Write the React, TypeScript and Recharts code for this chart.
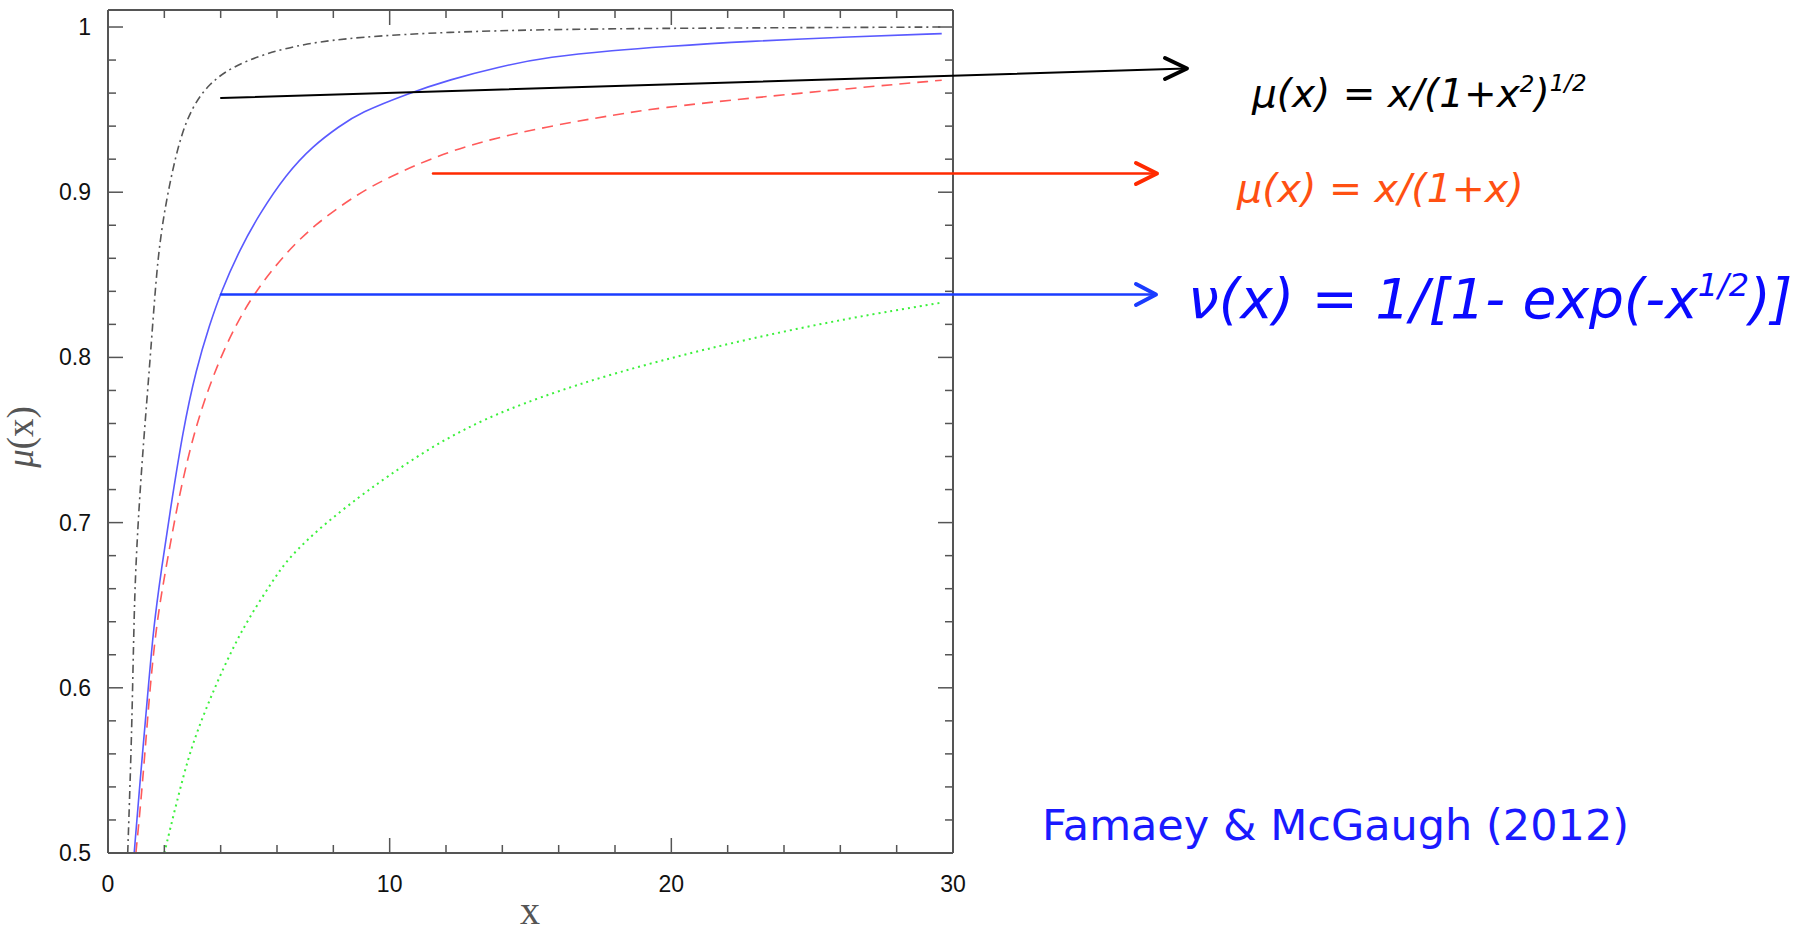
import React from 'react';
import { LineChart, Line, XAxis, YAxis } from 'recharts';

const STD_X = [0.7, 0.78, 0.85, 0.91, 0.97, 1.15, 1.38, 1.58, 1.77, 2.06, 2.53, 3.0, 3.6, 4.42, 5.6, 7.0, 8.9, 12.1, 15.6, 19.5, 24.5, 29.6];
const STD_Y = [0.5, 0.54, 0.58, 0.63, 0.67, 0.724, 0.774, 0.818, 0.862, 0.895, 0.932, 0.952, 0.966, 0.976, 0.984, 0.99, 0.994, 0.997, 0.9985, 0.9992, 0.9996, 1.0];

const NU_X = [0.93, 1.12, 1.43, 1.62, 1.89, 2.18, 2.66, 3.13, 3.61, 4.02, 4.67, 5.38, 6.33, 7.27, 8.22, 8.93, 10.69, 12.11, 13.89, 15.66, 18.03, 19.57, 22.79, 26.35, 29.6];
const NU_Y = [0.5, 0.54, 0.6, 0.637, 0.671, 0.704, 0.756, 0.793, 0.82, 0.84, 0.865, 0.887, 0.911, 0.928, 0.94, 0.948, 0.96, 0.968, 0.976, 0.982, 0.986, 0.988, 0.9915, 0.994, 0.996];

const SIMPLE_X = [0.99, 1.13, 1.31, 1.49, 1.73, 2.05, 2.56, 3.15, 3.86, 4.57, 5.28, 6.2, 7.29, 8.95, 9.98, 11.52, 13.29, 15.66, 18.03, 19.57, 22.79, 26.35, 29.6];
const SIMPLE_Y = [0.5, 0.524, 0.56, 0.6, 0.64, 0.672, 0.72, 0.761, 0.795, 0.821, 0.841, 0.861, 0.88, 0.9, 0.909, 0.921, 0.931, 0.94, 0.947, 0.951, 0.957, 0.9628, 0.9678];

const GREEN_X = [2.0, 2.74, 3.21, 3.81, 4.4, 4.99, 5.82, 6.42, 7.6, 8.95, 9.93, 11.32, 12.7, 14.09, 16.6, 19.57, 22.79, 26.35, 29.55];
const GREEN_Y = [0.5, 0.552, 0.576, 0.601, 0.623, 0.642, 0.664, 0.679, 0.698, 0.716, 0.728, 0.744, 0.757, 0.768, 0.7835, 0.798, 0.8115, 0.824, 0.833];

const X_TICKS = [0, 2, 4, 6, 8, 10, 12, 14, 16, 18, 20, 22, 24, 26, 28, 30];
const X_LABELS = [0, 10, 20, 30];
const Y_TICKS = [0.5, 0.52, 0.54, 0.56, 0.58, 0.6, 0.62, 0.64, 0.66, 0.68, 0.7, 0.72, 0.74, 0.76, 0.78, 0.8, 0.82, 0.84, 0.86, 0.88, 0.9, 0.92, 0.94, 0.96, 0.98, 1];
const Y_LABELS = ['0.5', '0.6', '0.7', '0.8', '0.9', '1'];

const toPoints = (xs: number[], ys: number[]) => xs.map((x, i) => ({ x, y: ys[i] }));

const FRAME = '#555';
const MAJOR = 15;
const MINOR = 8;

const isMajorX = (v: number) => X_LABELS.includes(v);
const yLabel = (v: number) => Y_LABELS.find((l) => Math.abs(parseFloat(l) - v) < 1e-6);

const BottomTick = ({ x, y, payload }: any) => {
  const major = isMajorX(payload.value);
  return (
    <g>
      <line x1={x} y1={y} x2={x} y2={y - (major ? MAJOR : MINOR)} stroke={FRAME} strokeWidth={1.5} />
      {major && (
        <text x={x} y={y + 39} textAnchor="middle" fontSize={23} fill="#111">
          {payload.value}
        </text>
      )}
    </g>
  );
};

const TopTick = ({ x, y, payload }: any) => (
  <line x1={x} y1={y} x2={x} y2={y + (isMajorX(payload.value) ? MAJOR : MINOR)} stroke={FRAME} strokeWidth={1.5} />
);

const LeftTick = ({ x, y, payload }: any) => {
  const label = yLabel(payload.value);
  return (
    <g>
      <line x1={x} y1={y} x2={x + (label ? MAJOR : MINOR)} y2={y} stroke={FRAME} strokeWidth={1.5} />
      {label && (
        <text x={x - 17} y={y + 8} textAnchor="end" fontSize={23} fill="#111">
          {label}
        </text>
      )}
    </g>
  );
};

const RightTick = ({ x, y, payload }: any) => (
  <line x1={x} y1={y} x2={x - (yLabel(payload.value) ? MAJOR : MINOR)} y2={y} stroke={FRAME} strokeWidth={1.5} />
);

export default function App() {
  const axisLine = { stroke: FRAME, strokeWidth: 2 };
  return (
    <div style={{ position: 'absolute', left: 0, top: 0, width: 1805, height: 934, background: '#fff', fontFamily: '"Liberation Sans", Arial, sans-serif' }}>
      <div style={{ position: 'absolute', left: 0, top: 0 }}>
        <LineChart width={1805} height={934} margin={{ top: 0, right: 842, bottom: 61, left: 88 }}>
          <XAxis xAxisId="b" type="number" dataKey="x" domain={[0, 30]} ticks={X_TICKS} interval={0}
            orientation="bottom" height={20} tickSize={0} tickMargin={0} tickLine={false} axisLine={axisLine}
            tick={<BottomTick />} allowDataOverflow />
          <XAxis xAxisId="t" type="number" dataKey="x" domain={[0, 30]} ticks={X_TICKS} interval={0}
            orientation="top" height={10} tickSize={0} tickMargin={0} tickLine={false} axisLine={axisLine}
            tick={<TopTick />} allowDataOverflow />
          <YAxis yAxisId="l" type="number" domain={[0.5, 1.0103]} ticks={Y_TICKS} interval={0}
            orientation="left" width={20} tickSize={0} tickMargin={0} tickLine={false} axisLine={axisLine}
            tick={<LeftTick />} allowDataOverflow />
          <YAxis yAxisId="r" type="number" domain={[0.5, 1.0103]} ticks={Y_TICKS} interval={0}
            orientation="right" width={10} tickSize={0} tickMargin={0} tickLine={false} axisLine={axisLine}
            tick={<RightTick />} allowDataOverflow />

          <Line xAxisId="b" yAxisId="l" data={toPoints(GREEN_X, GREEN_Y)} dataKey="y" type="basis"
            stroke="#3cf03c" strokeWidth={2} strokeDasharray="2 4" dot={false} isAnimationActive={false} />
          <Line xAxisId="b" yAxisId="l" data={toPoints(SIMPLE_X, SIMPLE_Y)} dataKey="y" type="basis"
            stroke="#ff5a5a" strokeWidth={1.6} strokeDasharray="11 7" dot={false} isAnimationActive={false} />
          <Line xAxisId="b" yAxisId="l" data={toPoints(NU_X, NU_Y)} dataKey="y" type="basis"
            stroke="#5a5aff" strokeWidth={1.6} dot={false} isAnimationActive={false} />
          <Line xAxisId="b" yAxisId="l" data={toPoints(STD_X, STD_Y)} dataKey="y" type="basis"
            stroke="#555" strokeWidth={1.6} strokeDasharray="8 4 2 4" dot={false} isAnimationActive={false} />
        </LineChart>
      </div>

      {/* annotations: axis titles, arrows and formulas */}
      <svg width={1805} height={934} style={{ position: 'absolute', left: 0, top: 0, pointerEvents: 'none' }}>
        <text transform="translate(33, 437) rotate(-90)" textAnchor="middle" fontFamily='"Liberation Serif", serif' fontSize={37} fill="#555">
          <tspan fontStyle="italic">μ</tspan>(x)
        </text>
        <text x={530} y={924} textAnchor="middle" fontFamily='"Liberation Serif", serif' fontSize={40} fill="#555">x</text>

        <g fill="none" strokeLinecap="round" strokeLinejoin="round">
          <line x1={221} y1={98} x2={1186} y2={68.5} stroke="#000" strokeWidth={2} />
          <polyline points="1165,58 1187,68.5 1165,79" stroke="#000" strokeWidth={4} />
          <line x1={433} y1={173.5} x2={1156} y2={173.5} stroke="#ff2a00" strokeWidth={2.5} />
          <polyline points="1136,163 1157,173.5 1136,184" stroke="#ff2a00" strokeWidth={4} />
          <line x1={221} y1={294.5} x2={1155} y2={294.5} stroke="#1a3cff" strokeWidth={2.5} />
          <polyline points="1136,284 1156,294.5 1136,305" stroke="#1a3cff" strokeWidth={4} />
        </g>

        <g fontFamily='"DejaVu Sans", sans-serif' fontStyle="italic">
          <text x={1252} y={107} fontSize={39} fill="#000">
            μ(x) = x/(1+x<tspan dy={-15} fontSize={23}>2</tspan><tspan dy={15}>)</tspan><tspan dy={-16} fontSize={23}>1/2</tspan>
          </text>
          <text x={1237} y={202} fontSize={39.5} fill="#ff5012">μ(x) = x/(1+x)</text>
          <text x={1188} y={318} fontSize={55} fill="#0a0aff">
            ν(x) = 1/[1- exp(-x<tspan dy={-22} fontSize={32}>1/2</tspan><tspan dy={22}>)]</tspan>
          </text>
        </g>
        <text x={1042} y={840} fontFamily='"DejaVu Sans", sans-serif' fontSize={43} fill="#1a1aff">Famaey &amp; McGaugh (2012)</text>
      </svg>
    </div>
  );
}
